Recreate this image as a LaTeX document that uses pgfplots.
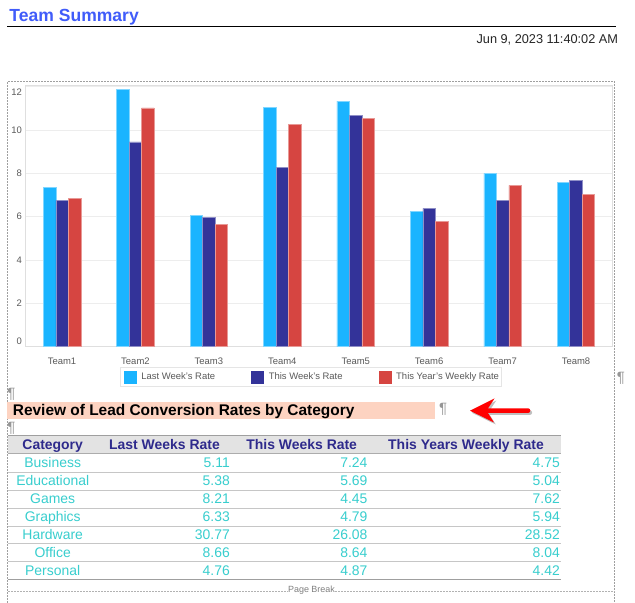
\documentclass[border=0pt]{standalone}
\usepackage{fontspec}
\setmainfont{Liberation Sans}
\usepackage{pgfplots}
\usepackage{pgfplotstable}
\pgfplotsset{compat=1.18}
\usetikzlibrary{shadows}
\definecolor{cLast}{RGB}{26,180,255}
\definecolor{cThis}{RGB}{51,51,153}
\definecolor{cYear}{RGB}{214,69,65}
\definecolor{titleblue}{RGB}{64,92,250}
\definecolor{hdrtext}{RGB}{46,42,140}
\definecolor{tbltext}{RGB}{56,206,206}
\definecolor{hlbg}{RGB}{253,211,193}
\definecolor{pilcrow}{RGB}{150,150,150}
\definecolor{lbl}{RGB}{90,90,90}

\pgfplotstableread{
idx last this year
0 7.35 6.75 6.85
1 11.88 9.45 11.02
2 6.06 5.98 5.65
3 11.03 8.28 10.26
4 11.34 10.68 10.54
5 6.25 6.38 5.78
6 8.00 6.75 7.45
7 7.57 7.69 7.03
}\teamdata

\begin{document}
\begin{tikzpicture}
\useasboundingbox (0,0) rectangle (635bp,603bp);
\fill[white] (0,0) rectangle (635bp,603bp);
\begin{scope}[x=1bp,y=-1bp,shift={(0,603bp)}]
  % header
  \node[anchor=base west, inner sep=0, text=titleblue, font=\fontsize{17.6}{20}\selectfont\bfseries] at (9.3,22) {Team Summary};
  \draw[line width=1.3bp] (7.3,26.7) -- (616,26.7);
  \node[anchor=base east, inner sep=0, font=\fontsize{12.8}{15}\selectfont, text=black!85] at (618.3,43.7) {Jun 9, 2023 11:40:02 AM};
  % dashed frame
  \draw[gray!75, line width=0.8bp, dash pattern=on 2bp off 1bp] (7.3,603) -- (7.3,81.7) -- (614.6,81.7) -- (614.6,603);
  % pilcrows
  \node[anchor=north west, inner sep=0, text=pilcrow, font=\fontsize{15}{16}\selectfont] at (7.3,388) {¶};
  \node[anchor=north west, inner sep=0, text=pilcrow, font=\fontsize{15}{16}\selectfont] at (7.3,421.7) {¶};
  \node[anchor=north west, inner sep=0, text=pilcrow, font=\fontsize{15}{16}\selectfont] at (439,403) {¶};
  \node[anchor=north west, inner sep=0, text=pilcrow, font=\fontsize{15}{16}\selectfont] at (616.7,371.7) {¶};
  % highlighted heading
  \fill[hlbg] (7.3,401.7) rectangle (435,419);
  \node[anchor=base west, inner sep=0, font=\fontsize{15.5}{17}\selectfont\bfseries] at (12.7,415.7) {Review of Lead Conversion Rates by Category};
  % arrow
  \fill[red, drop shadow={shadow xshift=1.8bp, shadow yshift=-2bp, opacity=0.25, fill=black}]
    (470,410.7) -- (494.5,398.5) -- (488,408.3) -- (528,408.3)
    arc[start angle=-90, end angle=90, radius=2.35] -- (488,413) -- (494,422.5) -- cycle;
  % table
  \fill[gray!22] (8.3,436) rectangle (561,454);
  \draw[gray!75, line width=1bp] (8.3,436) -- (561,436);
  \draw[gray!65, line width=1bp] (8.3,454) -- (561,454);
  \foreach \y in {472.3,490.2,508.1,526,543.9,561.4}
    \draw[gray!45, line width=0.9bp] (8.3,\y) -- (561,\y);
  \draw[gray!75, line width=1.3bp] (8.3,579.3) -- (561,579.3);
  \begin{scope}[every node/.style={inner sep=0, text=hdrtext, font=\fontsize{14}{16}\selectfont\bfseries, anchor=base}]
    \node at (52.7,450) {Category};
    \node at (164.5,450) {Last Weeks Rate};
    \node at (301.7,450) {This Weeks Rate};
    \node at (466,450) {This Years Weekly Rate};
  \end{scope}
  \foreach \c/\a/\b/\d [count=\i from 0] in {Business/5.11/7.24/4.75, Educational/5.38/5.69/5.04, Games/8.21/4.45/7.62, Graphics/6.33/4.79/5.94, Hardware/30.77/26.08/28.52, Office/8.66/8.64/8.04, Personal/4.76/4.87/4.42}{
    \pgfmathsetmacro\yb{454+17.9*\i+13.95}
    \node[anchor=base, inner sep=0, text=tbltext, font=\fontsize{14}{16}\selectfont] at (52.7,\yb) {\c};
    \node[anchor=base east, inner sep=0, text=tbltext, font=\fontsize{14}{16}\selectfont] at (230,\yb) {\a};
    \node[anchor=base east, inner sep=0, text=tbltext, font=\fontsize{14}{16}\selectfont] at (367.7,\yb) {\b};
    \node[anchor=base east, inner sep=0, text=tbltext, font=\fontsize{14}{16}\selectfont] at (560,\yb) {\d};
  }
  % page break
  \draw[gray!60, line width=0.7bp, dash pattern=on 2bp off 1bp] (8,591.7) -- (614.6,591.7);
  \node[fill=white, inner sep=0.5bp, text=gray, font=\fontsize{9}{10}\selectfont] at (311.5,590) {Page Break};
\end{scope}

\begin{axis}[
  at={(25.3bp,256.3bp)}, anchor=south west,
  width=587.4bp, height=261.7bp, scale only axis,
  xmin=-0.5, xmax=7.5, ymin=0, ymax=12.08,
  ybar=0pt, bar width=12.5bp,
  xtick={0,1,2,3,4,5,6,7},
  xticklabels={Team1,Team2,Team3,Team4,Team5,Team6,Team7,Team8},
  ytick={0,2,4,6,8,10,12},
  yticklabel={\ifnum\ticknum=0 \raisebox{5bp}[\height][\depth]{0}\else\ifnum\ticknum=6 \raisebox{-5bp}[\height][\depth]{12}\else\pgfmathprintnumber{\tick}\fi\fi},
  ymajorgrids, grid style={draw=gray!14, line width=0.8bp},
  axis line style={draw=gray!25, line width=0.8bp},
  tick style={draw=none},
  /pgf/number format/assume math mode=true,
  ticklabel style={font=\fontsize{9.5}{11}\selectfont, text=lbl},
  xticklabel style={inner sep=0pt, text height=7bp, text depth=2bp, anchor=north, yshift=-6.4bp},
  legend columns=3,
  legend style={at={(0.4864,-0.0787)}, anchor=north, draw=gray!20, line width=0.8bp,
    font=\fontsize{9.5}{11}\selectfont, text=lbl, inner xsep=2.5bp, inner ysep=3bp,
    nodes={inner xsep=0bp, inner ysep=1bp},
    /tikz/every even column/.append style={column sep=35.3bp}},
]
\addplot[fill=cLast, draw=cLast!55!white, line width=0.5bp,
  legend image code/.code={\path (-0.8bp,0) (17bp,0); \fill[cLast] (0bp,-6bp) rectangle (12bp,6bp);}]
  table[x=idx,y=last]{\teamdata};
\addplot[fill=cThis, draw=cThis!55!white, line width=0.5bp,
  legend image code/.code={\path (-0.8bp,0) (17bp,0); \fill[cThis] (0bp,-6bp) rectangle (12bp,6bp);}]
  table[x=idx,y=this]{\teamdata};
\addplot[fill=cYear, draw=cYear!55!white, line width=0.5bp,
  legend image code/.code={\path (-0.8bp,0) (17bp,0); \fill[cYear] (0bp,-6bp) rectangle (12bp,6bp);}]
  table[x=idx,y=year]{\teamdata};
\legend{Last Week's Rate, This Week's Rate, This Year's Weekly Rate}
\end{axis}
\end{tikzpicture}
\end{document}
